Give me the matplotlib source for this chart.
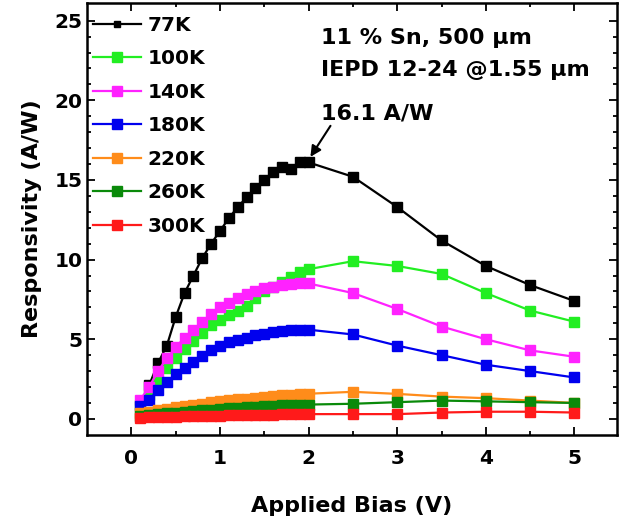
import numpy as np
import matplotlib.pyplot as plt

plt.rcParams['font.family'] = 'DejaVu Sans'
plt.rcParams['font.weight'] = 'bold'

# bias points: dense sweep up to 2 V, then 0.5 V steps
bias = [0.1, 0.2, 0.3, 0.4, 0.5, 0.6, 0.7, 0.8, 0.9, 1.0,
        1.1, 1.2, 1.3, 1.4, 1.5, 1.6, 1.7, 1.8, 1.9, 2.0,
        2.5, 3.0, 3.5, 4.0, 4.5, 5.0]
bias_77 = bias[1:]

r77 = [2.1, 3.5, 4.6, 6.4, 7.9, 9.0, 10.1, 11.0, 11.8,
       12.6, 13.3, 13.9, 14.5, 15.0, 15.5, 15.8, 15.7, 16.1, 16.1,
       15.2, 13.3, 11.2, 9.6, 8.4, 7.4]
r100 = [0.9, 1.5, 2.4, 3.2, 3.8, 4.4, 4.9, 5.4, 5.9, 6.2,
        6.5, 6.8, 7.1, 7.6, 8.0, 8.3, 8.6, 8.9, 9.2, 9.4,
        9.9, 9.6, 9.1, 7.9, 6.8, 6.1]
r140 = [1.2, 2.0, 3.0, 3.8, 4.5, 5.1, 5.6, 6.1, 6.6, 7.0,
        7.3, 7.6, 7.85, 8.05, 8.2, 8.3, 8.4, 8.45, 8.5, 8.5,
        7.9, 6.9, 5.8, 5.0, 4.3, 3.9]
r180 = [0.8, 1.2, 1.8, 2.3, 2.8, 3.2, 3.6, 3.95, 4.3, 4.55,
        4.8, 4.95, 5.1, 5.25, 5.35, 5.45, 5.5, 5.55, 5.6, 5.6,
        5.3, 4.6, 4.0, 3.4, 3.0, 2.6]
r220 = [0.35, 0.45, 0.55, 0.64, 0.73, 0.81, 0.89, 0.96, 1.03, 1.1,
        1.16, 1.22, 1.28, 1.33, 1.38, 1.43, 1.47, 1.51, 1.55, 1.58,
        1.7, 1.57, 1.4, 1.3, 1.15, 1.0]
r260 = [0.2, 0.25, 0.3, 0.35, 0.4, 0.45, 0.5, 0.54, 0.58, 0.62,
        0.66, 0.7, 0.73, 0.76, 0.79, 0.82, 0.85, 0.87, 0.89, 0.9,
        0.95, 1.05, 1.15, 1.1, 1.05, 1.0]
r300 = [0.08, 0.1, 0.12, 0.14, 0.15, 0.17, 0.18, 0.19, 0.2, 0.21,
        0.22, 0.23, 0.24, 0.25, 0.26, 0.27, 0.28, 0.29, 0.3, 0.3,
        0.3, 0.3, 0.4, 0.45, 0.45, 0.4]

labels = ['77K', '100K', '140K', '180K', '220K', '260K', '300K']
colors = ['black', '#22ee22', '#ff22ff', '#0000ee', '#ff8c1a', '#0a8a0a', '#ff1a1a']

fig = plt.figure(figsize=(6.22, 5.22), dpi=100)
ax = fig.add_axes([0.140, 0.167, 0.852, 0.827])

series = [(bias_77, r77), (bias, r100), (bias, r140), (bias, r180),
          (bias, r220), (bias, r260), (bias, r300)]
for (x, y), lab, c in zip(series, labels, colors):
    ms = 6.5 if lab == '77K' else 7.5
    ax.plot(x, y, '-s', color=c, ms=ms, lw=1.6, label=lab)

ax.set_xlim(-0.5, 5.48)
ax.set_ylim(-1.0, 26.1)
ax.set_xticks([0, 1, 2, 3, 4, 5])
ax.set_xticks(np.arange(0.5, 5, 1), minor=True)
ax.set_yticks([0, 5, 10, 15, 20, 25])
ax.set_yticks(range(1, 26), minor=True)
ax.tick_params(which='both', direction='in', top=True, right=True, width=1.3,
               labelsize=14.5)
ax.tick_params(which='major', length=6)
ax.tick_params(which='minor', length=3)
ax.tick_params(axis='x', pad=10.5)
for s in ax.spines.values():
    s.set_linewidth(1.8)

ax.set_xlabel('Applied Bias (V)', fontsize=16, fontweight='bold', labelpad=20)
ax.set_ylabel('Responsivity (A/W)', fontsize=16, fontweight='bold', labelpad=9)

leg = ax.legend(loc='upper left', bbox_to_anchor=(0.0, 0.985), frameon=False,
                fontsize=14.5, handlelength=2.4, handletextpad=0.3,
                labelspacing=0.72, borderaxespad=0.0, borderpad=0.3)
leg.legend_handles[0].set_markersize(5)

ax.text(2.14, 23.9, '11 % Sn, 500 μm', fontsize=16, fontweight='bold', va='center')
ax.text(2.14, 21.9, 'IEPD 12-24 @1.55 μm', fontsize=16, fontweight='bold', va='center')
ax.annotate('16.1 A/W', xy=(2.02, 16.45), xytext=(2.14, 19.2), fontsize=16,
            fontweight='bold', va='center',
            arrowprops=dict(arrowstyle='-|>', color='black', lw=1.5,
                            shrinkA=0, shrinkB=0,
                            relpos=(0.1, 0.0)))

fig.savefig('out.png', dpi=100)
